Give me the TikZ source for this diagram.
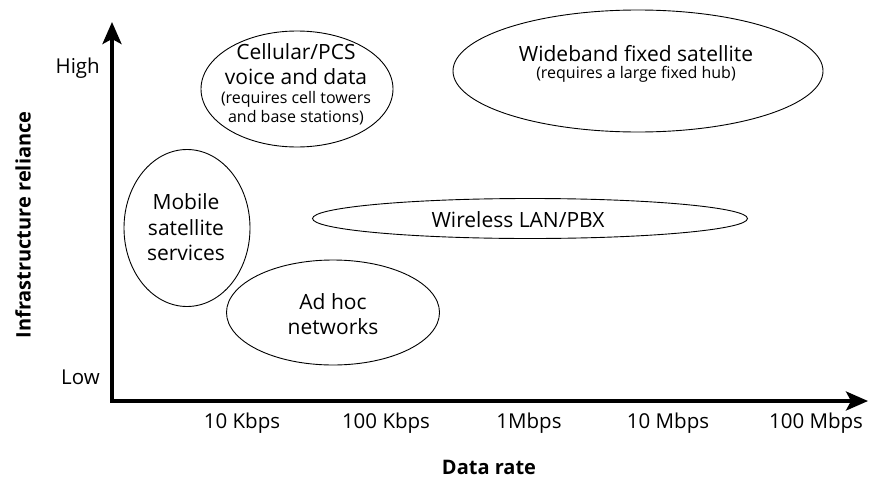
\documentclass[tikz,border=0pt]{standalone}
\usepackage{fontspec}
\setmainfont{Open Sans}
\usetikzlibrary{shapes.geometric,arrows.meta}
\begin{document}
\begin{tikzpicture}[x=1pt,y=-1pt,
  zone/.style={draw, ellipse, line width=0.9pt, inner sep=0pt},
  big/.style={font=\fontsize{21}{25}\selectfont, align=center, inner sep=0pt},
  small/.style={font=\fontsize{16}{19}\selectfont, align=center, inner sep=0pt},
  tick/.style={font=\fontsize{20.5}{22}\selectfont, inner sep=0pt},
  axis/.style={line width=3.5pt, {Stealth[length=22pt,width=19pt,inset=5pt]}-{Stealth[length=22pt,width=19pt,inset=5pt]}},
  axtitle/.style={font=\bfseries\fontsize{20}{22}\selectfont, inner sep=0pt}]
\useasboundingbox (0,0) rectangle (869,479);
% axes
\coordinate (O) at (112,401);
\coordinate (ytip) at (112,22);
\coordinate (xtip) at (868,401);
\draw[axis] (ytip) -- (O) -- (xtip);
% ellipses
\node[zone, minimum width=192pt, minimum height=116pt] (cell) at (297,89) {};
\node[zone, minimum width=370pt, minimum height=122pt] (wide) at (638,71) {};
\node[zone, minimum width=126pt, minimum height=157pt] (mob) at (187,228) {};
\node[zone, minimum width=435pt, minimum height=40pt] (wlan) at (530,218.5) {};
\node[zone, minimum width=213pt, minimum height=105pt] (adhoc) at (333,312.5) {};
% texts
\node[big] (cellA) at (296,64) {Cellular/PCS\\voice and data};
\node[small] (cellB) at (296,108.5) {(requires cell towers\\and base stations)};
\node[big] (wideA) at (636,54) {Wideband fixed satellite};
\node[small] (wideB) at (636,74) {(requires a large fixed hub)};
\node[big, font=\fontsize{21}{25.5}\selectfont] (mobT) at (186,227.5) {Mobile\\satellite\\services};
\node[big] (wlanT) at (518,220) {Wireless LAN/PBX};
\node[big] (adhocT) at (333,314.5) {Ad hoc\\networks};
% axis labels
\node[tick, anchor=east] (high) at (100,68) {High};
\node[tick, anchor=east] (low) at (100,377) {Low};
\node[tick] (t1) at (242,423) {10 Kbps};
\node[tick] (t2) at (386,423) {100 Kbps};
\node[tick] (t3) at (529,423) {1Mbps};
\node[tick] (t4) at (668,423) {10 Mbps};
\node[tick] (t5) at (816,423) {100 Mbps};
\node[axtitle] (xlab) at (489,467) {Data rate};
\node[axtitle, rotate=90] (ylab) at (23,225) {Infrastructure reliance};
\end{tikzpicture}
\end{document}
